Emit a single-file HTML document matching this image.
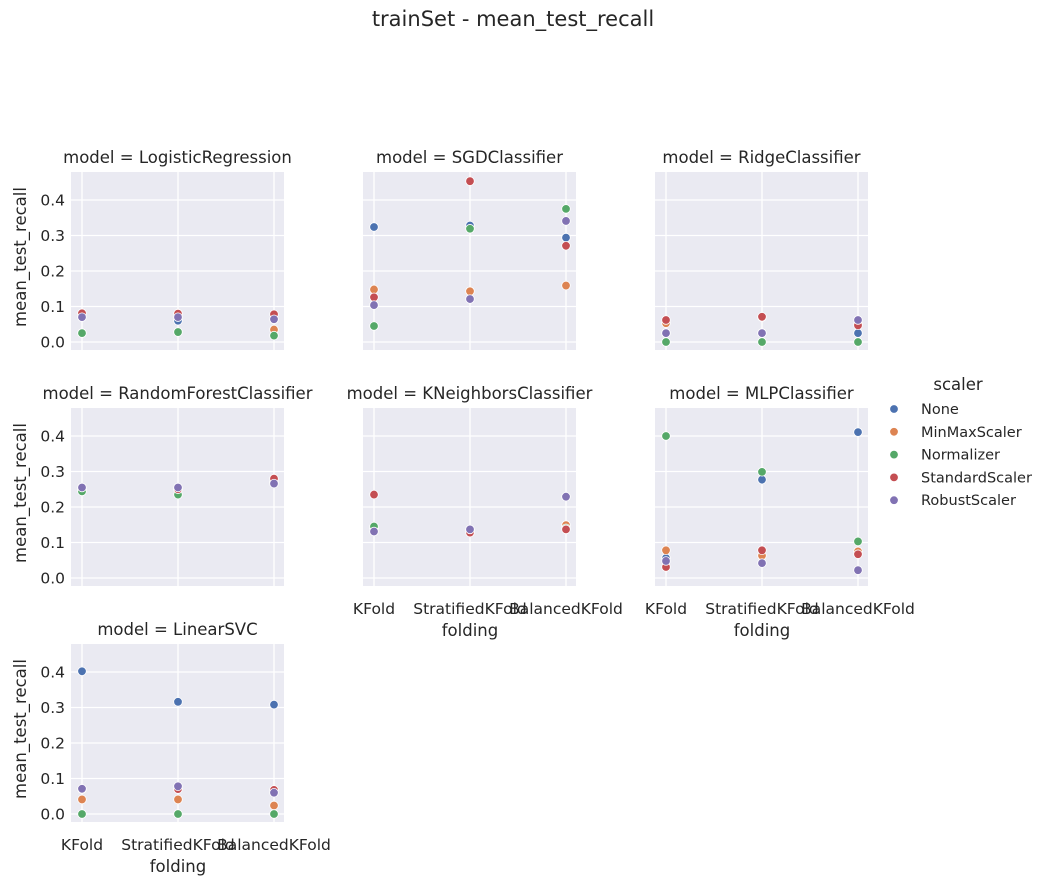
<!DOCTYPE html>
<html><head><meta charset="utf-8"><style>
body{margin:0;background:#fff;font-family:"Liberation Sans","DejaVu Sans",sans-serif;}
svg text{font-family:"DejaVu Sans","Liberation Sans",sans-serif;fill:#262626;}
</style></head><body>
<svg id="c" width="1051" height="884"></svg>
<script>
const models=["LogisticRegression","SGDClassifier","RidgeClassifier","RandomForestClassifier","KNeighborsClassifier","MLPClassifier","LinearSVC"];
const foldings=["KFold","StratifiedKFold","BalancedKFold"];
const scalers=["None","MinMaxScaler","Normalizer","StandardScaler","RobustScaler"];
const colors=["#4c72b0","#dd8452","#55a868","#c44e52","#8172b3"];
const yTicks=[0,0.1,0.2,0.3,0.4];
// values[model][scaler][folding]
const valLogReg=[[0.07,0.06,0.064],[0.025,0.028,0.035],[0.025,0.028,0.018],[0.081,0.08,0.078],[0.07,0.07,0.064]];
const valSGD=[[0.324,0.328,0.294],[0.148,0.143,0.159],[0.045,0.319,0.375],[0.126,0.453,0.271],[0.104,0.121,0.341]];
const valRidge=[[0.025,0.025,0.025],[0.053,0.07,0.05],[0,0,0],[0.062,0.071,0.047],[0.025,0.025,0.062]];
const valRF=[[0.25,0.25,0.27],[0.25,0.25,0.27],[0.244,0.235,0.27],[0.255,0.25,0.28],[0.255,0.255,0.266]];
const valKNN=[[0.14,0.135,0.14],[0.14,0.135,0.149],[0.145,0.135,0.14],[0.235,0.128,0.137],[0.131,0.137,0.229]];
const valMLP=[[0.056,0.277,0.411],[0.078,0.063,0.075],[0.4,0.299,0.103],[0.031,0.078,0.067],[0.048,0.042,0.022]];
const valSVC=[[0.402,0.316,0.308],[0.041,0.041,0.024],[0,0,0],[0.07,0.07,0.068],[0.071,0.078,0.06]];
const values=[valLogReg,valSGD,valRidge,valRF,valKNN,valMLP,valSVC];

const NS="http://www.w3.org/2000/svg";
const svg=document.getElementById('c');
function mk(tag,attrs,parent,text){const e=document.createElementNS(NS,tag);for(const k in attrs)e.setAttribute(k,attrs[k]);if(text!==undefined)e.textContent=text;(parent||svg).appendChild(e);return e;}
const lefts=[71,363,655], tops=[172,408,644], W=213, H=178;
function xPos(left,i){return left+11+i*96;}
function yPos(top,v){return top+170-v*355;}

const t=mk('text',{x:513,y:26,'text-anchor':'middle','font-size':21});t.textContent="trainSet - mean_test_recall";



models.forEach((m,mi)=>{
  const col=mi%3,row=Math.floor(mi/3);
  const L=lefts[col],T=tops[row];
  const g=mk('g',{});
  
  
  mk('rect',{x:L,y:T,width:W,height:H,fill:'#eaeaf2'},g);
  yTicks.forEach(v=>{const y=yPos(T,v);mk('line',{x1:L,x2:L+W,y1:y,y2:y,stroke:'#fff','stroke-width':1.3},g);
    if(col===0){const tl=mk('text',{x:L-6,y:y+5.5,'text-anchor':'end','font-size':15.5},g,v.toFixed(1));
      
      }});
  foldings.forEach((f,fi)=>{const x=xPos(L,fi);mk('line',{x1:x,x2:x,y1:T,y2:T+H,stroke:'#fff','stroke-width':1.3},g);});
  const tt=mk('text',{x:L+W/2,y:T-9,'text-anchor':'middle','font-size':16.5},g,"model = "+m);
  
  
  if(col===0){const yl=mk('text',{transform:`translate(${L-45},${T+H/2-4}) rotate(-90)`,'text-anchor':'middle','font-size':16.5},g,"mean_test_recall");
    
    }
  const bottom=(mi>=4);
  if(bottom){foldings.forEach((f,fi)=>{const xl=mk('text',{x:xPos(L,fi),y:T+H+28,'text-anchor':'middle','font-size':15.5},g,f);
      
      });
    const xt=mk('text',{x:xPos(L,1),y:T+H+50,'text-anchor':'middle','font-size':16.5},g,"folding");
    
    }
  scalers.forEach((s,si)=>{foldings.forEach((f,fi)=>{
    const c=mk('circle',{cx:xPos(L,fi),cy:yPos(T,values[mi][si][fi]),r:4.3,fill:colors[si],stroke:'#fff','stroke-width':0.8},g);
    
    
  });});
});
const lg=mk('g',{});


mk('text',{x:958,y:390,'text-anchor':'middle','font-size':16.5},lg,"scaler");
scalers.forEach((s,i)=>{const y=409+i*22.8;
  mk('circle',{cx:894,cy:y,r:4.3,fill:colors[i],stroke:'#fff','stroke-width':0.8},lg);
  const e=mk('text',{x:921,y:y+5,'font-size':14.5},lg,s);
  
  });
</script>
</body></html>
